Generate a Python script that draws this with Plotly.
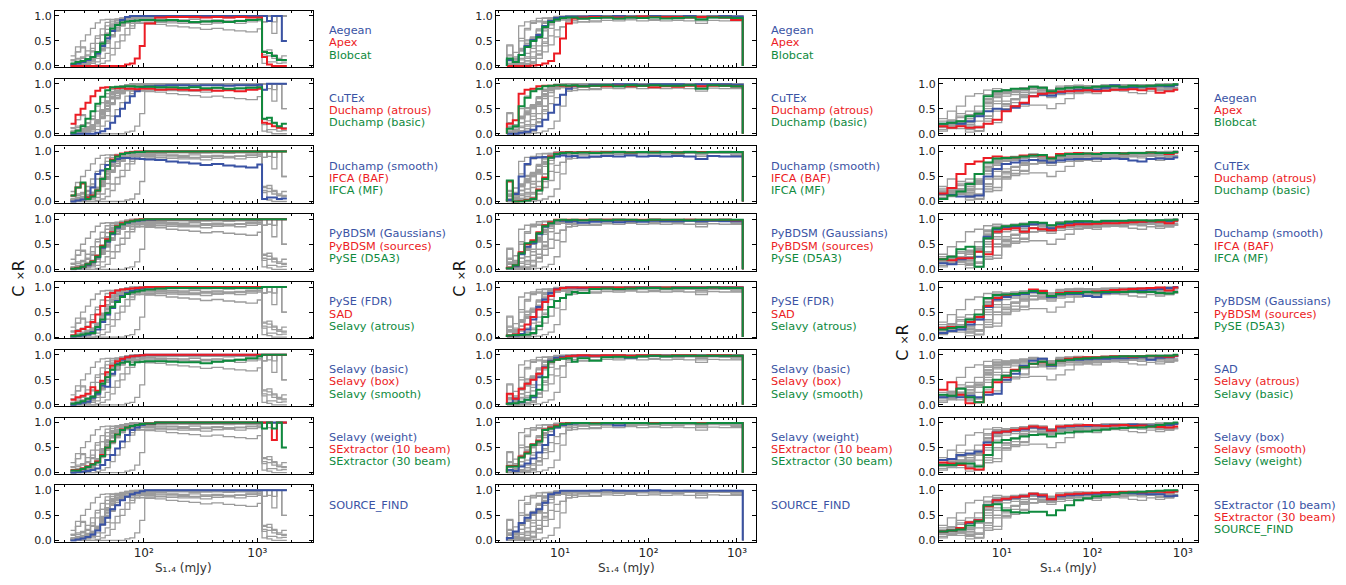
import math
import plotly.graph_objects as go

# ---------------- data (C x R in percent, per flux bin) ----------------
# bin edges in mJy for the three columns
edges_1 = [22.7, 25.1, 27.8, 30.7, 34.0, 37.5, 41.4, 45.8, 50.6, 56.0, 61.8, 68.4, 75.5, 83.4, 92.2, 102,
           126, 158, 200, 251, 316, 398, 501, 631, 794, 1000, 1100, 1216, 1343, 1486, 1643, 1820]
edges_2 = [2.51, 2.93, 3.41, 3.98, 4.64, 5.41, 6.31, 7.36, 8.58, 10.0, 11.7, 13.6, 15.8,
           21.5, 29.3, 39.8, 54.1, 73.6, 100, 136, 185, 251, 341, 464, 631, 858, 1161]
edges_3 = [2.0, 2.51, 3.16, 3.98, 5.01, 6.31, 7.94, 10.0, 12.6, 15.8, 20.0, 25.1, 31.6, 39.8,
           50.1, 63.1, 79.4, 100, 126, 158, 200, 251, 316, 398, 501, 631, 794, 891]

x_ticks_1 = [100, 1000]
x_ticktext_1 = ["10²", "10³"]
x_ticks_23 = [10, 100, 1000]
x_ticktext_23 = ["10¹", "10²", "10³"]
y_ticks = [0, 0.5, 1.0]
y_ticktext = ["0.0", "0.5", "1.0"]
x_title = "S₁.₄ (mJy)"
y_title = "C <span style='font-size:11px'>×</span>R"

# ---- column 1 ----
aegean_1 = [3,5,8,12,18,25,40,55,70,82,92,98,100,100,100, 100,100,100,100,100,100,100,100,100,100,100, 100,90,100,100,50]
apex_1 = [0,0,0,0,0,0,0,0,0,0,0,3,5,15,40, 85,97,98,98,98,97,98,97,98,97,97, 18,3,0,0,0]
blobcat_1 = [5,8,10,14,18,28,45,62,75,82,87,89,90,91,92, 92,91,92,90,88,89,90,88,90,92,93, 28,26,20,12,12]
cutex_1 = [0,0,0,0,0,2,5,10,22,35,50,62,75,85,92, 95,96,97,97,96,97,97,96,97,97,98, 88,100,100,100,100]
duchamp_atrous_1 = [20,38,50,62,75,86,92,93,92,91,92,90,90,89,90, 90,88,89,88,87,88,86,87,85,88,90, 22,20,15,12,10]
duchamp_basic_1 = [2,6,15,30,45,60,74,87,93,94,94,95,95,94,94, 94,93,93,92,93,91,92,90,91,92,93, 30,32,22,15,20]
duchamp_smooth_1 = [0,2,4,8,28,55,62,73,80,85,87,87,86,86,85, 84,83,80,78,76,73,75,72,70,68,74, 5,8,8,5,6]
ifca_baf_1 = [12,28,36,8,12,22,45,65,84,92,96,98,99,100,100, 100,100,100,100,100,100,100,100,100,100,100, 100,100,100,100,100]
ifca_mf_1 = [12,28,38,5,10,22,45,65,82,90,95,97,98,99,99, 100,100,100,100,100,100,100,100,100,100,100, 100,100,100,100,100]
pybdsm_g_1 = [0,2,4,8,14,24,43,55,70,83,90,93,96,97,98, 99,100,100,100,100,100,100,100,100,100,100, 100,100,100,100,100]
pybdsm_s_1 = [1,3,5,10,16,27,47,60,74,86,92,95,97,99,100, 100,100,100,100,100,100,100,100,100,100,100, 100,100,100,100,100]
pyse_d5a3_1 = [1,2,5,10,15,25,45,57,72,85,90,94,96,98,99, 100,100,100,100,100,100,100,100,100,100,100, 100,100,100,100,100]
pyse_fdr_1 = [1,2,3,5,10,15,30,45,58,72,82,88,92,95,97, 99,100,100,100,100,100,100,100,100,100,100, 100,100,100,100,100]
sad_1 = [3,12,16,20,30,45,62,80,88,93,95,96,97,98,99, 100,100,100,100,100,100,100,100,100,100,100, 100,100,100,100,100]
selavy_atrous_1 = [2,3,5,7,8,20,35,48,60,70,80,86,89,91,93, 95,97,98,98,98,98,98,98,98,98,98, 100,100,100,100,100]
selavy_basic_1 = [0,2,4,6,14,22,38,36,62,82,90,95,97,98,99, 100,100,100,100,100,100,100,100,100,100,100, 100,100,100,100,100]
selavy_box_1 = [10,15,18,22,35,28,48,65,78,87,92,95,97,98,99, 100,100,100,100,100,100,100,100,100,100,100, 100,100,100,100,100]
selavy_smooth_1 = [2,4,7,12,16,25,42,55,70,80,84,86,80,85,86, 87,87,86,85,85,83,86,88,90,93,97, 100,100,100,100,100]
selavy_weight_1 = [0,1,2,3,5,8,15,25,35,48,62,75,85,90,95, 97,100,100,100,100,100,100,100,100,100,100, 100,100,100,100,100]
sextractor10_1 = [5,5,8,12,17,22,35,50,62,76,86,90,93,95,97, 98,100,100,100,100,100,100,100,100,100,100, 100,100,65,100,100]
sextractor30_1 = [4,4,7,11,16,20,33,50,62,76,85,90,93,95,97, 98,100,100,100,100,100,100,100,100,100,100, 88,100,88,100,50]
source_find_1 = [0,2,4,7,12,20,32,45,62,70,80,87,92,95,98, 100,100,100,100,100,100,100,100,100,100,100, 100,100,100,100,100]

# ---- column 2 ----
aegean_2 = [12,8,22,40,52,62,80,90,96,98,99,99, 99,100,99,100,99,99,100,99,99,100,98,99,100,99]
apex_2 = [0,0,0,0,1,2,5,10,25,55,85,95, 97,98,98,97,98,99,98,98,98,97,98,98,97,92]
blobcat_2 = [15,8,22,38,50,58,78,88,93,96,97,97, 95,96,97,95,97,96,97,95,96,97,93,97,97,96]
cutex_2 = [0,0,2,4,8,15,28,42,58,78,90,95, 96,98,98,99,99,98,99,99,99,98,99,99,99,98]
duchamp_atrous_2 = [20,27,80,88,90,95,96,96,97,96,95,96, 95,96,95,96,95,96,93,95,94,96,95,96,96,95]
duchamp_basic_2 = [10,15,55,72,85,90,95,96,97,97,96,97, 95,96,97,95,97,96,97,96,96,97,90,97,96,95]
duchamp_smooth_2 = [3,15,50,75,87,88,89,88,90,92,90,91, 88,90,91,90,92,90,91,90,91,90,85,91,90,90]
ifca_baf_2 = [40,0,1,3,6,24,48,90,96,98,99,98, 99,98,99,99,98,99,99,99,98,99,99,99,99,99]
ifca_mf_2 = [42,0,0,2,5,22,45,88,95,97,98,97, 98,97,98,99,98,99,98,99,98,99,98,99,99,99]
pybdsm_g_2 = [2,6,30,45,52,70,85,92,98,97,95,96, 93,95,96,94,96,95,97,96,96,97,96,97,96,96]
pybdsm_s_2 = [3,8,34,50,58,74,88,94,99,99,99,99, 99,99,99,99,99,99,99,99,99,99,99,99,99,98]
pyse_d5a3_2 = [2,8,32,52,55,72,86,92,98,99,98,99, 98,99,98,99,99,98,99,99,99,98,99,99,99,99]
pyse_fdr_2 = [2,3,6,15,35,60,75,88,96,98,99,99, 98,99,99,98,99,99,99,98,99,99,99,99,99,99]
sad_2 = [3,5,15,25,40,55,70,82,95,98,99,99, 99,99,99,99,99,99,99,99,99,99,99,99,99,99]
selavy_atrous_2 = [3,4,4,5,8,22,40,60,72,78,85,90, 88,96,97,96,97,98,98,97,98,98,98,99,98,98]
selavy_basic_2 = [3,12,5,10,15,55,75,88,94,96,97,98, 98,98,98,98,94,98,98,98,98,98,98,98,98,98]
selavy_box_2 = [22,12,32,42,50,62,74,86,90,94,97,98, 99,98,99,99,98,99,99,98,99,99,98,99,99,98]
selavy_smooth_2 = [2,3,6,10,18,30,55,86,90,92,93,86, 93,88,95,96,95,97,98,97,98,98,98,98,98,98]
selavy_weight_2 = [5,3,12,18,28,40,55,75,90,95,97,98, 99,99,98,94,99,99,99,99,99,99,99,99,99,99]
sextractor10_2 = [13,13,32,40,56,64,86,90,94,98,99,99, 99,99,99,99,99,99,99,99,99,99,99,99,99,99]
sextractor30_2 = [12,12,30,38,55,62,85,88,92,97,98,99, 99,98,99,99,99,99,98,99,99,99,98,99,99,99]
source_find_2 = [5,18,35,45,55,62,75,92,95,99,99,99, 99,99,100,99,99,99,100,99,99,99,99,99,99,99]

# ---- column 3 ----
aegean_3 = [20,22,20,25,35,45,50,48,52,60,75,78,76,82,85,88,90,88,92,97,92,93,94,95,96,95,97]
apex_3 = [15,12,15,12,13,20,28,45,55,62,75,80,82,84,85,86,87,85,86,88,88,89,87,90,82,85,88]
blobcat_3 = [20,22,25,35,40,75,85,87,90,90,94,92,85,90,92,93,92,94,95,95,94,96,95,96,97,97,99]
cutex_3 = [15,13,10,10,12,50,65,75,78,82,83,82,78,82,84,85,85,86,85,86,85,82,80,85,86,85,88]
duchamp_atrous_3 = [16,27,55,75,80,87,90,88,88,92,93,92,88,95,96,97,96,96,97,97,96,97,97,98,97,95,98]
duchamp_basic_3 = [5,12,20,35,55,78,86,87,88,90,92,93,86,92,95,95,96,95,97,97,96,97,97,98,97,97,99]
duchamp_smooth_3 = [12,10,20,22,25,65,80,84,85,86,90,92,82,90,92,93,92,94,95,96,94,96,95,96,97,96,98]
ifca_baf_3 = [20,18,22,22,35,30,75,80,82,75,82,80,78,85,88,90,90,91,92,92,93,94,95,96,95,92,97]
ifca_mf_3 = [20,25,40,45,5,62,82,86,88,90,94,93,88,92,95,96,96,95,97,97,97,98,98,97,98,98,99]
pybdsm_g_3 = [8,12,15,25,35,60,75,80,84,86,90,88,80,85,86,86,82,80,88,89,90,91,93,95,96,98,100]
pybdsm_s_3 = [18,20,20,30,40,62,78,84,86,88,95,92,82,88,90,90,90,91,92,94,95,96,97,98,99,93,99]
pyse_d5a3_3 = [15,18,20,35,45,78,84,85,86,88,92,88,82,86,88,88,90,89,90,90,90,91,90,90,88,87,90]
sad_3 = [15,17,15,18,15,20,22,50,62,78,88,92,78,88,90,90,91,92,92,93,93,94,95,90,94,95,97]
selavy_atrous_3 = [30,45,20,3,5,25,45,55,70,75,82,85,80,88,92,94,95,95,96,97,97,96,97,98,97,96,98]
selavy_basic_3 = [20,18,32,15,5,35,50,58,68,75,82,86,80,88,90,92,93,94,95,96,97,97,97,98,98,98,100]
selavy_box_3 = [25,27,35,38,42,60,80,82,84,86,90,88,84,90,92,93,93,94,94,95,95,96,95,94,92,95,97]
selavy_smooth_3 = [20,18,15,8,6,55,80,82,85,88,92,90,84,92,93,94,95,94,93,94,95,93,94,92,91,90,92]
selavy_weight_3 = [15,15,18,18,12,35,60,65,68,72,75,76,72,78,80,82,82,84,86,88,89,90,90,92,95,98,100]
sextractor10_3 = [18,20,25,35,40,70,80,82,85,88,92,88,82,88,90,91,92,93,94,95,95,94,93,92,92,88,89]
sextractor30_3 = [18,20,25,36,40,68,80,83,86,88,93,90,82,90,92,93,94,95,96,96,97,97,96,97,97,96,98]
source_find_3 = [18,20,22,30,38,70,72,60,56,55,57,57,50,60,70,80,84,88,90,92,95,96,97,98,99,100,100]

# ---------------- assemble ----------------
col1 = {"Aegean": aegean_1, "Apex": apex_1, "Blobcat": blobcat_1, "CuTEx": cutex_1,
        "Duchamp (atrous)": duchamp_atrous_1, "Duchamp (basic)": duchamp_basic_1,
        "Duchamp (smooth)": duchamp_smooth_1, "IFCA (BAF)": ifca_baf_1, "IFCA (MF)": ifca_mf_1,
        "PyBDSM (Gaussians)": pybdsm_g_1, "PyBDSM (sources)": pybdsm_s_1, "PySE (D5A3)": pyse_d5a3_1,
        "PySE (FDR)": pyse_fdr_1, "SAD": sad_1, "Selavy (atrous)": selavy_atrous_1,
        "Selavy (basic)": selavy_basic_1, "Selavy (box)": selavy_box_1, "Selavy (smooth)": selavy_smooth_1,
        "Selavy (weight)": selavy_weight_1, "SExtractor (10 beam)": sextractor10_1,
        "SExtractor (30 beam)": sextractor30_1, "SOURCE_FIND": source_find_1}
col2 = {"Aegean": aegean_2, "Apex": apex_2, "Blobcat": blobcat_2, "CuTEx": cutex_2,
        "Duchamp (atrous)": duchamp_atrous_2, "Duchamp (basic)": duchamp_basic_2,
        "Duchamp (smooth)": duchamp_smooth_2, "IFCA (BAF)": ifca_baf_2, "IFCA (MF)": ifca_mf_2,
        "PyBDSM (Gaussians)": pybdsm_g_2, "PyBDSM (sources)": pybdsm_s_2, "PySE (D5A3)": pyse_d5a3_2,
        "PySE (FDR)": pyse_fdr_2, "SAD": sad_2, "Selavy (atrous)": selavy_atrous_2,
        "Selavy (basic)": selavy_basic_2, "Selavy (box)": selavy_box_2, "Selavy (smooth)": selavy_smooth_2,
        "Selavy (weight)": selavy_weight_2, "SExtractor (10 beam)": sextractor10_2,
        "SExtractor (30 beam)": sextractor30_2, "SOURCE_FIND": source_find_2}
col3 = {"Aegean": aegean_3, "Apex": apex_3, "Blobcat": blobcat_3, "CuTEx": cutex_3,
        "Duchamp (atrous)": duchamp_atrous_3, "Duchamp (basic)": duchamp_basic_3,
        "Duchamp (smooth)": duchamp_smooth_3, "IFCA (BAF)": ifca_baf_3, "IFCA (MF)": ifca_mf_3,
        "PyBDSM (Gaussians)": pybdsm_g_3, "PyBDSM (sources)": pybdsm_s_3, "PySE (D5A3)": pyse_d5a3_3,
        "SAD": sad_3, "Selavy (atrous)": selavy_atrous_3,
        "Selavy (basic)": selavy_basic_3, "Selavy (box)": selavy_box_3, "Selavy (smooth)": selavy_smooth_3,
        "Selavy (weight)": selavy_weight_3, "SExtractor (10 beam)": sextractor10_3,
        "SExtractor (30 beam)": sextractor30_3, "SOURCE_FIND": source_find_3}

panels_12 = [["Aegean", "Apex", "Blobcat"],
             ["CuTEx", "Duchamp (atrous)", "Duchamp (basic)"],
             ["Duchamp (smooth)", "IFCA (BAF)", "IFCA (MF)"],
             ["PyBDSM (Gaussians)", "PyBDSM (sources)", "PySE (D5A3)"],
             ["PySE (FDR)", "SAD", "Selavy (atrous)"],
             ["Selavy (basic)", "Selavy (box)", "Selavy (smooth)"],
             ["Selavy (weight)", "SExtractor (10 beam)", "SExtractor (30 beam)"],
             ["SOURCE_FIND"]]
panels_3 = [["Aegean", "Apex", "Blobcat"],
            ["CuTEx", "Duchamp (atrous)", "Duchamp (basic)"],
            ["Duchamp (smooth)", "IFCA (BAF)", "IFCA (MF)"],
            ["PyBDSM (Gaussians)", "PyBDSM (sources)", "PySE (D5A3)"],
            ["SAD", "Selavy (atrous)", "Selavy (basic)"],
            ["Selavy (box)", "Selavy (smooth)", "Selavy (weight)"],
            ["SExtractor (10 beam)", "SExtractor (30 beam)", "SOURCE_FIND"]]

# ---------------- styling / layout ----------------
W, H = 1346, 585
COLX = [(55, 313), (496, 756), (939, 1198)]
XR = [(1.219, 3.49), (0.277, 3.215), (0.307, 3.169)]
ROW_TOP0, ROW_PITCH, ROW_H = 10, 68.6, 57
LEG_X = [327, 769, 1212]
LEG_FS, LEG_DY, LEG_Y0 = 11.3, 12.4, 20.0
HL = ["#3a53a4", "#ec1c24", "#0f8a3e"]
GREY = "#9c9c9c"
FONT = "DejaVu Sans"

columns = [
    dict(data=col1, edges=edges_1, panels=panels_12, rows=list(range(8)), close=False,
         ticks=x_ticks_1, ticktext=x_ticktext_1),
    dict(data=col2, edges=edges_2, panels=panels_12, rows=list(range(8)), close=True,
         ticks=x_ticks_23, ticktext=x_ticktext_23),
    dict(data=col3, edges=edges_3, panels=panels_3, rows=list(range(1, 8)), close=False,
         ticks=x_ticks_23, ticktext=x_ticktext_23),
]


def step_xy(edges, vals, close):
    v = [x / 100.0 for x in vals]
    xs = list(edges)
    ys = v + [v[-1]]
    if close:
        xs = [edges[0]] + xs + [edges[-1]]
        ys = [0.0] + ys + [0.0]
    return xs, ys


fig = go.Figure()
layout = dict(width=W, height=H, margin=dict(l=0, r=0, t=0, b=0, pad=0), autosize=False,
              paper_bgcolor="white", plot_bgcolor="white", showlegend=False,
              font=dict(family=FONT, size=11, color="#222222"))
annotations = []
k = 0
for c, col in enumerate(columns):
    lo, hi = XR[c]
    minor_vals = [m * 10 ** d for d in range(0, 4) for m in range(2, 10)
                  if lo < math.log10(m * 10 ** d) < hi]
    for p, names in enumerate(col["panels"]):
        r = col["rows"][p]
        k += 1
        top = ROW_TOP0 + r * ROW_PITCH
        bot = top + ROW_H
        xa, ya = ("x%d" % k, "y%d" % k)
        for name, vals in col["data"].items():
            if name in names:
                continue
            xs, ys = step_xy(col["edges"], vals, col["close"])
            fig.add_trace(go.Scatter(x=xs, y=ys, mode="lines", xaxis=xa, yaxis=ya,
                                     line=dict(color=GREY, width=1.3, shape="hv"),
                                     hoverinfo="skip", showlegend=False))
        for j, name in enumerate(names):
            xs, ys = step_xy(col["edges"], col["data"][name], col["close"])
            fig.add_trace(go.Scatter(x=xs, y=ys, mode="lines", xaxis=xa, yaxis=ya,
                                     line=dict(color=HL[j], width=2.0, shape="hv"),
                                     hoverinfo="skip", showlegend=False))
            annotations.append(dict(x=LEG_X[c] / W, y=1 - (top + LEG_Y0 + j * LEG_DY) / H,
                                    xref="paper", yref="paper", xanchor="left", yanchor="middle",
                                    text=name, showarrow=False,
                                    font=dict(family=FONT, size=LEG_FS, color=HL[j])))
        bottom = (r == 7)
        layout["xaxis%d" % k] = dict(
            type="log", range=[lo, hi], domain=[COLX[c][0] / W, COLX[c][1] / W], anchor=ya,
            showline=True, linecolor="black", linewidth=1.2, mirror="allticks",
            ticks="inside", ticklen=4, tickwidth=1, tickcolor="black",
            tickmode="array", tickvals=col["ticks"], ticktext=col["ticktext"],
            showticklabels=bottom, showgrid=False, zeroline=False,
            tickfont=dict(family=FONT, size=12, color="#222222"),
            minor=dict(ticks="inside", ticklen=2, tickwidth=0.8, tickcolor="black",
                       tickmode="array", tickvals=minor_vals, showgrid=False))
        layout["yaxis%d" % k] = dict(
            range=[-0.025, 1.1], domain=[1 - bot / H, 1 - top / H], anchor=xa,
            showline=True, linecolor="black", linewidth=1.2, mirror="allticks",
            ticks="inside", ticklen=4, tickwidth=1, tickcolor="black",
            tickmode="array", tickvals=y_ticks, ticktext=y_ticktext,
            showgrid=False, zeroline=False,
            tickfont=dict(family=FONT, size=11, color="#222222"))
    annotations.append(dict(x=(COLX[c][0] + COLX[c][1]) / 2 / W, y=1 - 574 / H,
                            xref="paper", yref="paper", xanchor="center", yanchor="middle",
                            text=x_title, showarrow=False,
                            font=dict(family=FONT, size=12, color="#333333")))

for (xp, yp) in [(19, 281), (460, 281), (903, 345)]:
    annotations.append(dict(x=xp / W, y=1 - yp / H, xref="paper", yref="paper",
                            xanchor="center", yanchor="middle", textangle=-90,
                            text=y_title, showarrow=False,
                            font=dict(family=FONT, size=16, color="#111111")))

layout["annotations"] = annotations
fig.update_layout(**layout)
fig.write_html("out.html", config={"displayModeBar": False},
               post_script="document.body.style.margin='0px';document.body.style.overflow='hidden';")
